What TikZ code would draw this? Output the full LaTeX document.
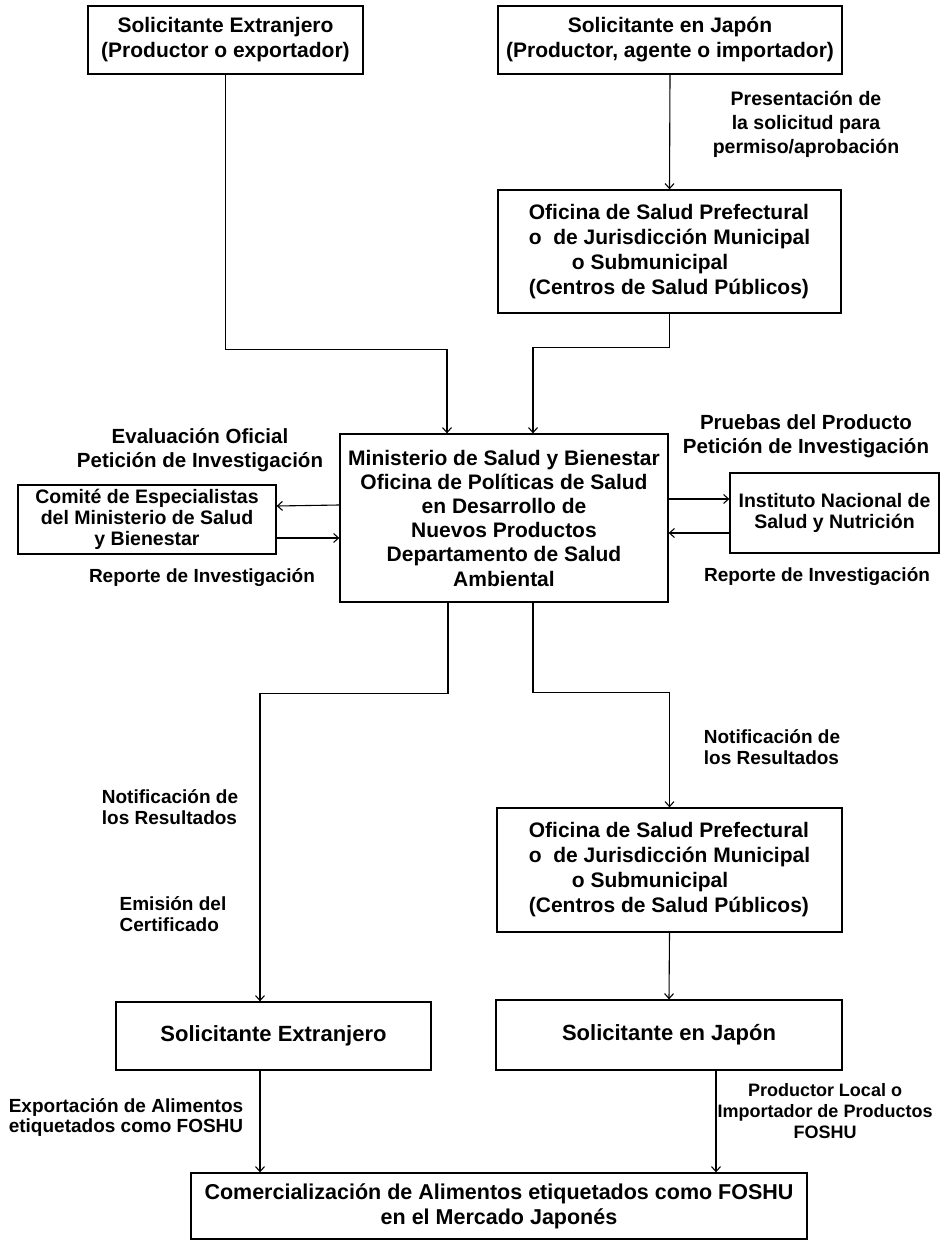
\documentclass[tikz,border=0pt]{standalone}
\usepackage{fontspec}
\setmainfont{Liberation Sans}
\usetikzlibrary{arrows.meta}
\begin{document}
\begin{tikzpicture}[x=1pt,y=1pt,
  box/.style={draw, line width=1.3pt, inner sep=0pt, align=center},
  lbl/.style={inner sep=0pt, align=center},
  fbig/.style={font=\bfseries\fontsize{21}{25}\selectfont},
  fmid/.style={font=\bfseries\fontsize{19}{21}\selectfont},
  arr/.style={line width=1.1pt, -{Straight Barb[length=5pt,width=9pt]}}]
\useasboundingbox (0,0) rectangle (946,-1241);
% boxes
\node[box,fbig,minimum width=275pt,minimum height=68pt] (se1) at (225.5,-40)
  {Solicitante Extranjero\\(Productor o exportador)};
\node[box,fbig,minimum width=344pt,minimum height=68pt] (sj1) at (670,-40)
  {Solicitante en Japón\\(Productor, agente o importador)};
\node[box,fbig,align=left,minimum width=343pt,minimum height=123pt] (of1) at (669.5,-251.5)
  {Oficina de Salud Prefectural\\o\ \ de Jurisdicción Municipal\\\hspace*{43pt}o Submunicipal\\(Centros de Salud Públicos)};
\node[box,font=\bfseries\fontsize{21}{24.2}\selectfont,minimum width=328pt,minimum height=168pt] (min) at (504,-518)
  {Ministerio de Salud y Bienestar\\Oficina de Políticas de Salud\\en Desarrollo de\\Nuevos Productos\\Departamento de Salud\\Ambiental};
\node[box,font=\bfseries\fontsize{19.5}{20.7}\selectfont,minimum width=258pt,minimum height=69pt] (com) at (147,-519.5)
  {Comité de Especialistas\\del Ministerio de Salud\\y Bienestar};
\node[box,font=\bfseries\fontsize{19.5}{21.7}\selectfont,minimum width=209pt,minimum height=80pt] (inst) at (834.5,-513)
  {Instituto Nacional de\\Salud y Nutrición};
\node[box,fbig,align=left,minimum width=345pt,minimum height=124pt] (of2) at (669.5,-870)
  {Oficina de Salud Prefectural\\o\ \ de Jurisdicción Municipal\\\hspace*{43pt}o Submunicipal\\(Centros de Salud Públicos)};
\node[box,font=\bfseries\fontsize{22}{25}\selectfont,minimum width=315pt,minimum height=68pt] (se2) at (273.5,-1036)
  {Solicitante Extranjero};
\node[box,font=\bfseries\fontsize{22}{25}\selectfont,minimum width=346pt,minimum height=70pt] (sj2) at (669,-1035)
  {Solicitante en Japón};
\node[box,font=\bfseries\fontsize{21.5}{25}\selectfont,minimum width=616pt,minimum height=66pt] (comer) at (499,-1206)
  {Comercialización de Alimentos etiquetados como FOSHU\\en el Mercado Japonés};
% labels
\node[lbl,font=\bfseries\fontsize{19.5}{24}\selectfont] (pres) at (806,-124)
  {Presentación de\\la solicitud para\\permiso/aprobación};
\node[lbl,font=\bfseries\fontsize{20.5}{23.5}\selectfont] (eval) at (200,-450)
  {Evaluación Oficial\\Petición de Investigación};
\node[lbl,fmid] (rep1) at (202,-578) {Reporte de Investigación};
\node[lbl,font=\bfseries\fontsize{20.5}{23.5}\selectfont] (prue) at (806,-436)
  {Pruebas del Producto\\Petición de Investigación};
\node[lbl,fmid] (rep2) at (817,-577) {Reporte de Investigación};
\node[lbl,fmid,align=left] (not1) at (170,-807) {Notificación de\\los Resultados};
\node[lbl,fmid,align=left] (emi) at (173,-914) {Emisión del\\Certificado};
\node[lbl,fmid,align=left] (not2) at (772,-747) {Notificación de\\los Resultados};
\node[lbl,font=\bfseries\fontsize{19}{20}\selectfont] (exp) at (126,-1117)
  {Exportación de Alimentos\\etiquetados como FOSHU};
\node[lbl,font=\bfseries\fontsize{18}{21}\selectfont] (prod) at (825,-1111)
  {Productor Local o\\Importador de Productos\\FOSHU};
% connectors
\draw[arr] (se1.south) -- ++(0,-275) -| ([xshift=-57pt]min.north);
\draw[arr] (sj1.south) -- (of1.north);
\draw[arr] (of1.south) -- ++(0,-34) -| ([xshift=29pt]min.north);
\draw[arr] ([yshift=13pt]min.west) -- ([yshift=13.5pt]com.east);
\draw[arr] ([yshift=-18.5pt]com.east) -- ([yshift=-20pt]min.west);
\draw[arr] ([yshift=19pt]min.east) -- ([yshift=14pt]inst.west);
\draw[arr] ([yshift=-20pt]inst.west) -- ([yshift=-15pt]min.east);
\draw[arr] ([xshift=-56pt]min.south) -- ++(0,-91) -| ([xshift=-13.5pt]se2.north);
\draw[arr] ([xshift=29pt]min.south) -- ++(0,-90) -| (of2.north);
\draw[arr] (of2.south) -- (sj2.north);
\draw[arr] ([xshift=-13.5pt]se2.south) -- ([xshift=-13.5pt]se2.south |- comer.north);
\draw[arr] ([xshift=47pt]sj2.south) -- ([xshift=47pt]sj2.south |- comer.north);
\end{tikzpicture}
\end{document}
